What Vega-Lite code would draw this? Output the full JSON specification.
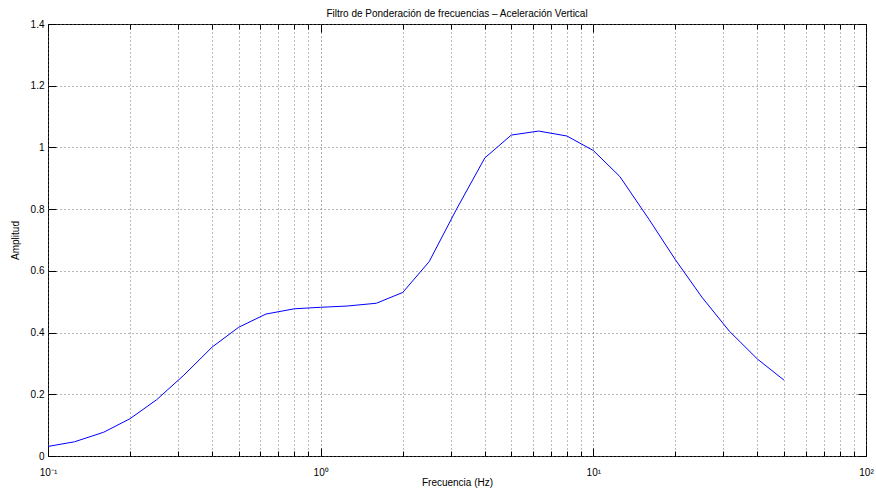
{
  "$schema": "https://vega.github.io/schema/vega-lite/v6.json",
  "width": 818,
  "height": 432,
  "autosize": {"type": "none"},
  "padding": {"left": 48, "top": 24, "right": 10, "bottom": 33},
  "background": "#ffffff",
  "title": {
    "text": "Filtro de Ponderación de frecuencias – Aceleración Vertical",
    "font": "Liberation Sans",
    "fontSize": 10,
    "fontWeight": "normal",
    "color": "#000000",
    "anchor": "middle",
    "offset": 0
  },
  "config": {
    "view": {"stroke": "#000000", "strokeWidth": 1},
    "axis": {
      "domain": false,
      "labelFont": "Liberation Sans",
      "labelFontSize": 10,
      "labelColor": "#000000",
      "titleFont": "Liberation Sans",
      "titleFontSize": 10,
      "titleFontWeight": "normal",
      "titleColor": "#000000",
      "tickColor": "#000000",
      "tickWidth": 1,
      "gridDash": [1, 3],
      "gridWidth": 1,
      "labelOverlap": false,
      "labelBound": false,
      "labelFlush": false
    }
  },
  "data": {
    "values": [
      {"f": 0.1, "amp": 0.031},
      {"f": 0.125, "amp": 0.046},
      {"f": 0.16, "amp": 0.077},
      {"f": 0.2, "amp": 0.121},
      {"f": 0.25, "amp": 0.182},
      {"f": 0.315, "amp": 0.262},
      {"f": 0.4, "amp": 0.353},
      {"f": 0.5, "amp": 0.417},
      {"f": 0.63, "amp": 0.46},
      {"f": 0.8, "amp": 0.477},
      {"f": 1, "amp": 0.482},
      {"f": 1.25, "amp": 0.486},
      {"f": 1.6, "amp": 0.495},
      {"f": 2, "amp": 0.53},
      {"f": 2.5, "amp": 0.63},
      {"f": 3.15, "amp": 0.8},
      {"f": 4, "amp": 0.966},
      {"f": 5, "amp": 1.04},
      {"f": 6.3, "amp": 1.053},
      {"f": 8, "amp": 1.037},
      {"f": 10, "amp": 0.99},
      {"f": 12.5, "amp": 0.906},
      {"f": 16, "amp": 0.767},
      {"f": 20, "amp": 0.636},
      {"f": 25, "amp": 0.515},
      {"f": 31.5, "amp": 0.405},
      {"f": 40, "amp": 0.314},
      {"f": 50, "amp": 0.246}
    ]
  },
  "resolve": {"axis": {"x": "independent", "y": "independent"}},
  "layer": [
    {
      "mark": {"type": "line", "color": "#0000ff", "strokeWidth": 1, "clip": true},
      "encoding": {
        "x": {
          "field": "f",
          "type": "quantitative",
          "scale": {"type": "log", "domain": [0.1, 100], "nice": false},
          "axis": {
            "orient": "bottom",
            "title": "Frecuencia (Hz)",
            "titleBaseline": "alphabetic",
            "titleY": 29,
            "values": [0.1, 0.2, 0.3, 0.4, 0.5, 0.6, 0.7, 0.8, 0.9, 1, 2, 3, 4, 5, 6, 7, 8, 9, 10, 20, 30, 40, 50, 60, 70, 80, 90, 100],
            "labelExpr": "abs(log(datum.value)/LN10 - round(log(datum.value)/LN10)) < 1e-6 ? (round(log(datum.value)/LN10) == -1 ? '10⁻¹' : round(log(datum.value)/LN10) == 0 ? '10⁰' : round(log(datum.value)/LN10) == 1 ? '10¹' : '10²') : ''",
            "grid": true,
            "gridColor": {"condition": {"test": "abs(log(datum.value)/LN10 - round(log(datum.value)/LN10)) < 1e-6", "value": "#555555"}, "value": "#7a7a7a"},
            "tickSize": {"condition": {"test": "abs(log(datum.value)/LN10 - round(log(datum.value)/LN10)) < 1e-6", "value": -8}, "value": -5},
            "labelPadding": 19
          }
        },
        "y": {
          "field": "amp",
          "type": "quantitative",
          "scale": {"domain": [0, 1.4], "nice": false},
          "axis": {
            "orient": "left",
            "title": "Amplitud",
            "titlePadding": 10,
            "values": [0, 0.2, 0.4, 0.6, 0.8, 1, 1.2, 1.4],
            "format": "~g",
            "grid": true,
            "gridColor": "#6a6a6a",
            "tickSize": -8,
            "labelPadding": 12
          }
        }
      }
    },
    {
      "mark": {"type": "line", "opacity": 0},
      "encoding": {
        "x": {
          "field": "f",
          "type": "quantitative",
          "axis": {
            "orient": "top",
            "title": null,
            "labels": false,
            "grid": false,
            "values": [0.1, 0.2, 0.3, 0.4, 0.5, 0.6, 0.7, 0.8, 0.9, 1, 2, 3, 4, 5, 6, 7, 8, 9, 10, 20, 30, 40, 50, 60, 70, 80, 90, 100],
            "tickSize": {"condition": {"test": "abs(log(datum.value)/LN10 - round(log(datum.value)/LN10)) < 1e-6", "value": -8}, "value": -5}
          }
        },
        "y": {
          "field": "amp",
          "type": "quantitative",
          "axis": {
            "orient": "right",
            "title": null,
            "labels": false,
            "grid": false,
            "values": [0, 0.2, 0.4, 0.6, 0.8, 1, 1.2, 1.4],
            "tickSize": -8
          }
        }
      }
    }
  ]
}
